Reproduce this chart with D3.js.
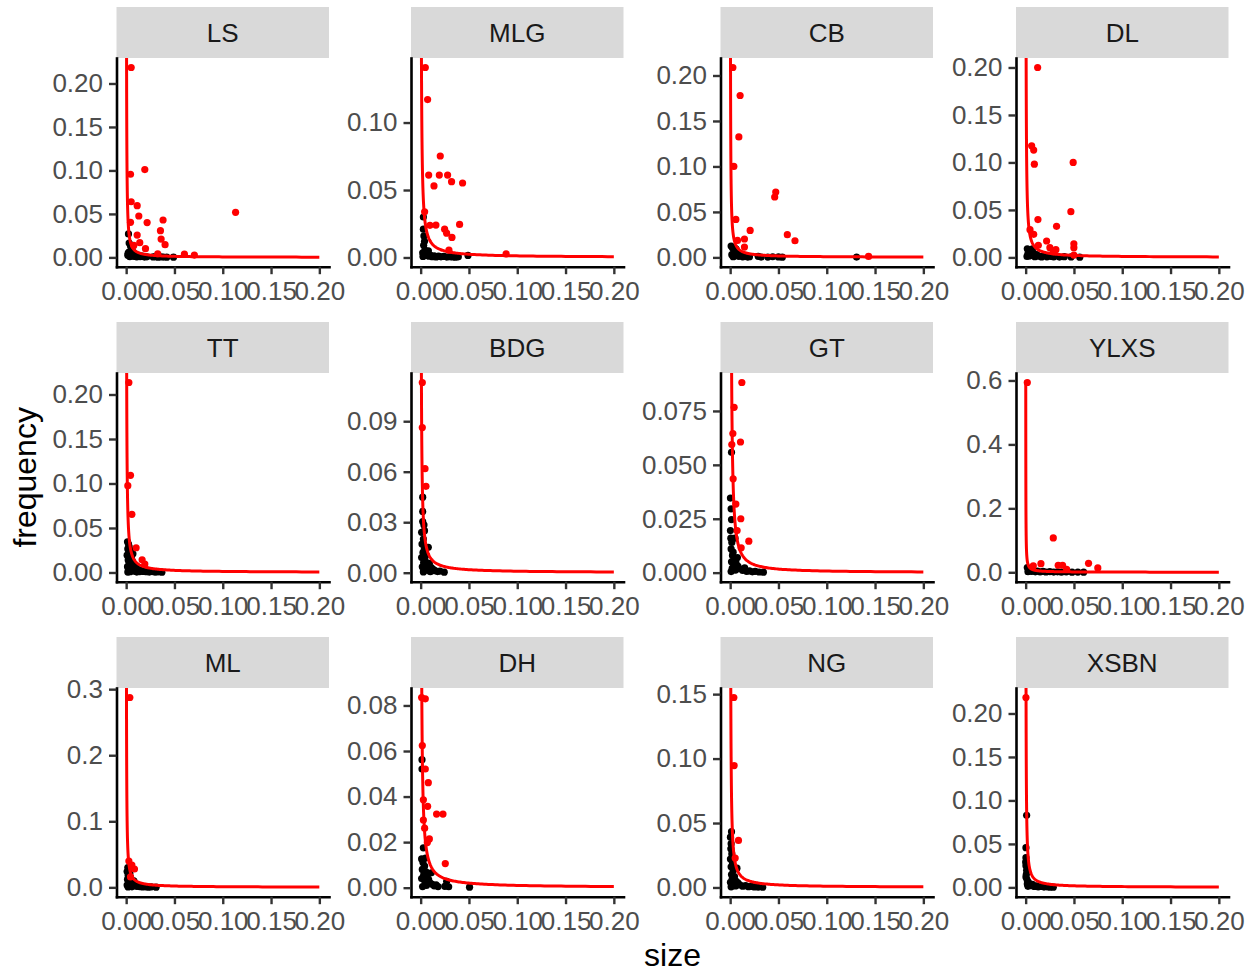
<!DOCTYPE html>
<html>
<head>
<meta charset="utf-8">
<script src="https://cdn.jsdelivr.net/npm/d3@7"></script>
<style>
  body { margin: 0; background: #fff; }
  text { font-family: "Liberation Sans", Arial, Helvetica, sans-serif; }
</style>
</head>
<body>
<svg id="chart" width="1255" height="972"></svg>
<script>
// Site order of the facets (row-wise, 4 columns)
const sites = ["LS", "MLG", "CB", "DL", "TT", "BDG", "GT", "YLXS", "ML", "DH", "NG", "XSBN"];

// Power-law fit per site: frequency = fitA * size^(-fitB)
const fitA = [4.5e-5, 1.2e-4, 8e-5, 1.05e-4, 1.2e-4, 9e-5, 5.3e-5, 6e-5, 1e-4, 1e-4, 1e-4, 9e-5];
const fitB = [1.1, 1.0, 1.0, 1.0, 1.0, 1.0, 1.15, 1.0, 1.0, 1.0, 1.0, 1.0];

// x axis breaks shared by all facets
const xTicks = [0, 0.05, 0.10, 0.15, 0.20];

// y axis breaks per site
const yTicks = {
  LS:   [0, 0.05, 0.10, 0.15, 0.20],
  MLG:  [0, 0.05, 0.10],
  CB:   [0, 0.05, 0.10, 0.15, 0.20],
  DL:   [0, 0.05, 0.10, 0.15, 0.20],
  TT:   [0, 0.05, 0.10, 0.15, 0.20],
  BDG:  [0, 0.03, 0.06, 0.09],
  GT:   [0, 0.025, 0.05, 0.075],
  YLXS: [0, 0.2, 0.4, 0.6],
  ML:   [0, 0.1, 0.2, 0.3],
  DH:   [0, 0.02, 0.04, 0.06, 0.08],
  NG:   [0, 0.05, 0.10, 0.15],
  XSBN: [0, 0.05, 0.10, 0.15, 0.20]
};

// [size, frequency] pairs — highlighted (red) observations
const LS_red = [[0.0052,0.2184],[0.0045,0.0956],[0.0193,0.101],[0.0052,0.064],[0.0114,0.0595],[0.0131,0.0476],
  [0.0045,0.0403],[0.0217,0.040],[0.0382,0.043],[0.0355,0.0307],[0.0362,0.0211],[0.0403,0.0146],[0.0114,0.0257],
  [0.0141,0.0169],[0.0200,0.0100],[0.0327,0.0042],[0.0603,0.0038],[0.0706,0.0027],[0.1133,0.0518],[0.0079,0.0138]];
const MLG_red = [[0.0048,0.1408],[0.0072,0.117],[0.0203,0.0752],[0.0083,0.0611],[0.0193,0.0611],[0.0279,0.0611],
  [0.0138,0.053],[0.032,0.0562],[0.0434,0.0552],[0.0041,0.0339],[0.0096,0.0238],[0.0158,0.024],[0.0248,0.021],
  [0.0269,0.018],[0.0324,0.0149],[0.0403,0.0245],[0.0293,0.0054],[0.0885,0.0027]];
const CB_red = [[0.0028,0.2088],[0.0103,0.178],[0.009,0.1325],[0.0038,0.100],[0.0472,0.0719],[0.0461,0.0664],
  [0.0059,0.0418],[0.0207,0.0297],[0.0592,0.025],[0.0671,0.0183],[0.0148,0.0202],[0.0076,0.0187],[0.0148,0.0114],
  [0.1433,0.0011]];
const DL_red = [[0.0124,0.2],[0.0062,0.1176],[0.0083,0.113],[0.009,0.0982],[0.0492,0.100],[0.0468,0.0482],
  [0.0127,0.0398],[0.032,0.0327],[0.0045,0.0292],[0.0083,0.0243],[0.0217,0.0173],[0.0131,0.0127],[0.0251,0.0102],
  [0.0313,0.0081],[0.0499,0.0144],[0.0499,0.0102],[0.0499,0.0025],[0.0286,0.006]];
const TT_red = [[0.0028,0.2135],[0.0045,0.1092],[0.0017,0.0976],[0.0059,0.0653],[0.0103,0.0278],[0.0165,0.0143],
  [0.0193,0.0094]];
const BDG_red = [[0.0017,0.1130],[0.0017,0.0862],[0.0045,0.0618],[0.0055,0.0513]];
const GT_red = [[0.0121,0.0882],[0.0041,0.0767],[0.0028,0.0645],[0.0017,0.0594],[0.0107,0.0606],[0.0031,0.0435],
  [0.0059,0.0318],[0.011,0.025],[0.0072,0.0195],[0.0114,0.0115],[0.0193,0.0146]];
const YLXS_red = [[0.0017,0.5937],[0.0286,0.1075],[0.0158,0.027],[0.0337,0.022],[0.0382,0.022],[0.0651,0.028],
  [0.0747,0.0136],[0.0424,0.0094],[0.0079,0.0198]];
const ML_red = [[0.0038,0.2874],[0.0028,0.0399],[0.0059,0.0338],[0.0086,0.0278],[0.0045,0.0157]];
const DH_red = [[0.001,0.0835],[0.0048,0.0829],[0.0017,0.0624],[0.0048,0.0521],[0.0079,0.0461],[0.0028,0.0386],
  [0.0072,0.0357],[0.0165,0.0323],[0.0231,0.0323],[0.0028,0.0297],[0.0041,0.0261],[0.009,0.0214],[0.0069,0.0198],
  [0.0255,0.0106]];
const NG_red = [[0.0038,0.1474],[0.0041,0.0946],[0.0086,0.0365],[0.0052,0.0228]];
const XSBN_red = [[0.0003,0.2184]];

// [size, frequency] pairs — remaining (black) observations
const LS_black = [[0.0024,0.027],[0.0031,0.0165],[0.0045,0.013],[0.0028,0.0062],[0.0017,0.0025],[0.0038,0.0008],
  [0.0055,0.0035],[0.0072,0.0012],[0.0090,0.0041],[0.0110,0.0006],[0.0128,0.0022],[0.0145,0.0009],[0.0165,0.0015],
  [0.0190,0.0004],[0.0215,0.0007],[0.0280,0.0005],[0.0305,0.0009],[0.0330,0.0003],[0.0360,0.0006],[0.0385,0.0004],
  [0.0420,0.0002],[0.0490,0.0003],[0.0062,0.0085],[0.0100,0.0010],[0.0020,0.0045]];
const MLG_black = [[0.0028,0.030],[0.0028,0.021],[0.0034,0.016],[0.0031,0.009],[0.0045,0.0055],[0.0021,0.0035],
  [0.0024,0.0008],[0.0055,0.0015],[0.0069,0.0030],[0.0086,0.0009],[0.0100,0.0018],[0.0120,0.0006],[0.0140,0.0012],
  [0.0160,0.0004],[0.0185,0.0010],[0.0210,0.0005],[0.0240,0.0008],[0.0270,0.0003],[0.0300,0.0006],[0.0330,0.0004],
  [0.0360,0.0002],[0.0390,0.0005],[0.0490,0.0015],[0.0080,0.0050],[0.0040,0.0120]];
const CB_black = [[0.0010,0.0125],[0.0024,0.0105],[0.0038,0.0060],[0.0017,0.0030],[0.0031,0.0008],[0.0055,0.0020],
  [0.0072,0.0045],[0.0090,0.0012],[0.0110,0.0030],[0.0130,0.0006],[0.0155,0.0015],[0.0180,0.0004],[0.0200,0.0008],
  [0.0290,0.0012],[0.0320,0.0004],[0.0390,0.0003],[0.0440,0.0007],[0.0500,0.0005],[0.0540,0.0002],[0.1309,0.0004],
  [0.0060,0.0095],[0.0045,0.0015]];
const DL_black = [[0.0017,0.0090],[0.0031,0.0075],[0.0045,0.0060],[0.0024,0.0040],[0.0014,0.0010],[0.0062,0.0025],
  [0.0080,0.0045],[0.0095,0.0008],[0.0115,0.0030],[0.0140,0.0012],[0.0165,0.0005],[0.0190,0.0020],[0.0220,0.0006],
  [0.0260,0.0010],[0.0290,0.0004],[0.0350,0.0003],[0.0400,0.0008],[0.0470,0.0005],[0.0560,0.0002],[0.0070,0.0090],
  [0.0038,0.0015]];
const TT_black = [[0.0014,0.0345],[0.0024,0.0320],[0.0031,0.0290],[0.0017,0.0265],[0.0045,0.0250],[0.0028,0.0220],
  [0.0010,0.0195],[0.0038,0.0180],[0.0055,0.0160],[0.0021,0.0140],[0.0065,0.0125],[0.0031,0.0110],[0.0080,0.0095],
  [0.0045,0.0080],[0.0014,0.0065],[0.0100,0.0060],[0.0060,0.0045],[0.0120,0.0035],[0.0024,0.0030],[0.0150,0.0025],
  [0.0080,0.0015],[0.0180,0.0012],[0.0040,0.0008],[0.0210,0.0008],[0.0240,0.0005],[0.0270,0.0010],[0.0300,0.0004],
  [0.0330,0.0006],[0.0370,0.0003],[0.0110,0.0005],[0.0140,0.0009],[0.0017,0.0004],[0.0050,0.0120],[0.0070,0.0210]];
const BDG_black = [[0.0021,0.0449],[0.0021,0.0364],[0.0021,0.0304],[0.0034,0.0284],[0.0010,0.0240],[0.0028,0.0200],
  [0.0014,0.0170],[0.0079,0.0151],[0.0038,0.0140],[0.0024,0.0120],[0.0055,0.0105],[0.0010,0.0090],[0.0045,0.0075],
  [0.0031,0.0060],[0.0090,0.0055],[0.0070,0.0040],[0.0017,0.0035],[0.0110,0.0030],[0.0130,0.0020],[0.0060,0.0015],
  [0.0150,0.0012],[0.0175,0.0007],[0.0200,0.0010],[0.0244,0.0003],[0.0028,0.0005],[0.0100,0.0006],[0.0040,0.0250]];
const GT_black = [[0.0014,0.0558],[0.0003,0.0346],[0.0010,0.0296],[0.0014,0.0246],[0.0003,0.0195],[0.0007,0.0160],
  [0.0017,0.0140],[0.0010,0.0110],[0.0031,0.0095],[0.0024,0.0080],[0.0045,0.0065],[0.0014,0.0050],[0.0060,0.0045],
  [0.0038,0.0035],[0.0080,0.0030],[0.0021,0.0020],[0.0100,0.0018],[0.0055,0.0012],[0.0130,0.0010],[0.0150,0.0022],
  [0.0170,0.0006],[0.0200,0.0008],[0.0230,0.0004],[0.0260,0.0006],[0.0300,0.0003],[0.0344,0.0002],[0.0010,0.0005],
  [0.0075,0.0070],[0.0050,0.0160]];
const YLXS_black = [[0.0017,0.0150],[0.0031,0.0100],[0.0045,0.0060],[0.0024,0.0020],[0.0060,0.0030],[0.0080,0.0050],
  [0.0100,0.0015],[0.0120,0.0040],[0.0150,0.0010],[0.0180,0.0030],[0.0210,0.0008],[0.0250,0.0020],[0.0290,0.0005],
  [0.0330,0.0015],[0.0370,0.0004],[0.0420,0.0010],[0.0480,0.0003],[0.0540,0.0006],[0.0600,0.0002],[0.0065,0.0120]];
const ML_black = [[0.0017,0.0300],[0.0028,0.0270],[0.0010,0.0240],[0.0038,0.0210],[0.0021,0.0180],[0.0045,0.0150],
  [0.0014,0.0120],[0.0031,0.0100],[0.0055,0.0080],[0.0024,0.0060],[0.0070,0.0045],[0.0010,0.0035],[0.0090,0.0030],
  [0.0040,0.0020],[0.0110,0.0015],[0.0060,0.0008],[0.0140,0.0010],[0.0170,0.0005],[0.0200,0.0008],[0.0230,0.0003],
  [0.0260,0.0006],[0.0310,0.0002],[0.0080,0.0100],[0.0020,0.0005]];
const DH_black = [[0.0014,0.0562],[0.0014,0.0521],[0.0028,0.0175],[0.0010,0.0126],[0.0024,0.0110],[0.0041,0.0095],
  [0.0017,0.0080],[0.0055,0.0070],[0.0031,0.0055],[0.0069,0.0045],[0.0010,0.0040],[0.0083,0.0035],[0.0045,0.0025],
  [0.0100,0.0020],[0.0120,0.0015],[0.0060,0.0010],[0.0140,0.0008],[0.0160,0.0012],[0.0180,0.0005],[0.0269,0.0028],
  [0.0250,0.0006],[0.0290,0.0004],[0.0506,0.0002],[0.0020,0.0005],[0.0110,0.0065],[0.0050,0.0130]];
const NG_black = [[0.0014,0.0433],[0.0003,0.0390],[0.0010,0.0340],[0.0007,0.0300],[0.0017,0.0260],[0.0003,0.0220],
  [0.0024,0.0190],[0.0010,0.0160],[0.0031,0.0130],[0.0014,0.0100],[0.0045,0.0085],[0.0021,0.0065],[0.0060,0.0050],
  [0.0003,0.0040],[0.0080,0.0035],[0.0038,0.0025],[0.0100,0.0020],[0.0055,0.0012],[0.0130,0.0010],[0.0160,0.0015],
  [0.0190,0.0006],[0.0220,0.0009],[0.0250,0.0004],[0.0290,0.0003],[0.0337,0.0002],[0.0010,0.0005],[0.0070,0.0150]];
const XSBN_black = [[0.0010,0.0829],[0.0003,0.0457],[0.0003,0.0342],[0.0000,0.0292],[0.0010,0.0196],[0.0003,0.0120],
  [0.0028,0.0060],[0.0014,0.0090],[0.0007,0.0150],[0.0017,0.0040],[0.0040,0.0030],[0.0055,0.0020],[0.0070,0.0035],
  [0.0090,0.0010],[0.0110,0.0018],[0.0130,0.0006],[0.0160,0.0010],[0.0190,0.0004],[0.0220,0.0007],[0.0250,0.0003],
  [0.0286,0.0002],[0.0024,0.0012],[0.0003,0.0250]];

const redPoints = { LS: LS_red, MLG: MLG_red, CB: CB_red, DL: DL_red, TT: TT_red, BDG: BDG_red,
  GT: GT_red, YLXS: YLXS_red, ML: ML_red, DH: DH_red, NG: NG_red, XSBN: XSBN_red };
const blackPoints = { LS: LS_black, MLG: MLG_black, CB: CB_black, DL: DL_black, TT: TT_black, BDG: BDG_black,
  GT: GT_black, YLXS: YLXS_black, ML: ML_black, DH: DH_black, NG: NG_black, XSBN: XSBN_black };

// ---- layout ----
const colLeft = [116.5, 411, 720.5, 1016];
const stripTop = [7, 322, 637];
const panelW = 212.5, stripH = 51, panelH = 208.7;
const tickLen = 7.5, axisFont = 26, titleFont = 32, pointR = 3.6;

const svg = d3.select("#chart");
svg.append("rect").attr("width", 1255).attr("height", 972).attr("fill", "#fff");

// number of decimals needed to print every break of an axis
const decimalsOf = ticks => d3.max(ticks, t => (String(t).split(".")[1] || "").length);

// sample positions for drawing the fitted curve (log-spaced along size)
const curveX = d3.range(240).map(i => 1e-4 * Math.pow(0.2 / 1e-4, i / 239));

sites.forEach((site, i) => {
  const c = i % 4, r = Math.floor(i / 4);
  const g = svg.append("g").attr("transform", `translate(${colLeft[c]},${stripTop[r]})`);

  // strip
  g.append("rect").attr("width", panelW).attr("height", stripH).attr("fill", "#d9d9d9");
  g.append("text").attr("x", panelW / 2).attr("y", stripH / 2).attr("dy", "0.36em")
    .attr("text-anchor", "middle").attr("font-size", axisFont).attr("fill", "#1a1a1a").text(site);

  const p = g.append("g").attr("transform", `translate(0,${stripH})`);

  const reds = redPoints[site], blacks = blackPoints[site];
  const all = reds.concat(blacks);
  const [lo, hi] = d3.extent(all, d => d[1]);
  const span = hi - lo;

  const x = d3.scaleLinear().domain([-0.01, 0.21]).range([0, panelW]);
  const y = d3.scaleLinear().domain([lo - 0.05 * span, hi + 0.05 * span]).range([panelH, 0]);

  const clipId = "clip-" + site;
  p.append("clipPath").attr("id", clipId)
    .append("rect").attr("width", panelW).attr("height", panelH);

  const marks = p.append("g").attr("clip-path", `url(#${clipId})`);

  marks.selectAll("circle.blk").data(blacks).join("circle").attr("class", "blk")
    .attr("cx", d => x(d[0])).attr("cy", d => y(d[1])).attr("r", pointR).attr("fill", "#000");
  marks.selectAll("circle.red").data(reds).join("circle").attr("class", "red")
    .attr("cx", d => x(d[0])).attr("cy", d => y(d[1])).attr("r", pointR).attr("fill", "#ff0000");

  const a = fitA[i], b = fitB[i];
  const line = d3.line().x(d => x(d)).y(d => y(a * Math.pow(d, -b)));
  marks.append("path").datum(curveX).attr("d", line)
    .attr("fill", "none").attr("stroke", "#ff0000").attr("stroke-width", 3);

  // y axis
  const yt = yTicks[site];
  const fmt = d3.format("." + decimalsOf(yt) + "f");
  const ya = p.append("g").call(d3.axisLeft(y).tickValues(yt).tickFormat(fmt)
      .tickSize(tickLen).tickSizeOuter(0).tickPadding(6));
  ya.attr("font-size", axisFont).attr("font-family", null);
  ya.select(".domain").attr("stroke", "#000").attr("stroke-width", 2.6).attr("stroke-linecap", "square");
  ya.selectAll(".tick line").attr("stroke", "#333").attr("stroke-width", 2.4);
  ya.selectAll(".tick text").attr("fill", "#4d4d4d");

  // x axis
  const xa = p.append("g").attr("transform", `translate(0,${panelH})`)
    .call(d3.axisBottom(x).tickValues(xTicks).tickFormat(d3.format(".2f"))
      .tickSize(tickLen).tickSizeOuter(0).tickPadding(7));
  xa.attr("font-size", axisFont).attr("font-family", null);
  xa.select(".domain").attr("stroke", "#000").attr("stroke-width", 2.6).attr("stroke-linecap", "square");
  xa.selectAll(".tick line").attr("stroke", "#333").attr("stroke-width", 2.4);
  xa.selectAll(".tick text").attr("fill", "#4d4d4d");
});

// axis titles
svg.append("text").attr("x", (colLeft[0] + colLeft[3] + panelW) / 2).attr("y", 966)
  .attr("text-anchor", "middle").attr("font-size", titleFont).attr("fill", "#000").text("size");
svg.append("text").attr("transform", `translate(36,${(stripTop[0] + stripH + stripTop[2] + stripH + panelH) / 2}) rotate(-90)`)
  .attr("text-anchor", "middle").attr("font-size", titleFont).attr("fill", "#000").text("frequency");
</script>
</body>
</html>
